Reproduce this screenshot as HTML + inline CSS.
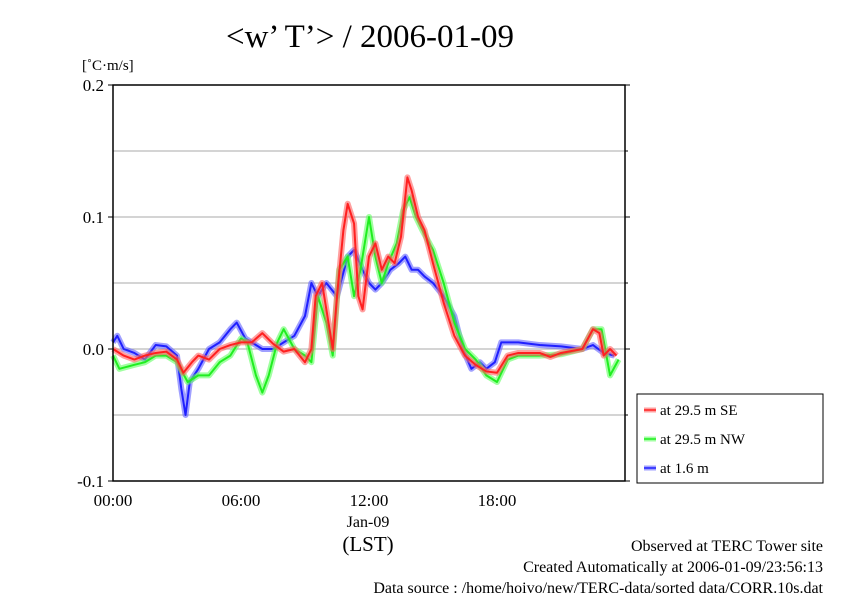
<!DOCTYPE html>
<html><head><meta charset="utf-8"><style>
body{margin:0;background:#fff;}
svg{display:block;font-family:"Liberation Serif",serif;}
</style></head><body>
<svg id="c" width="842" height="595" viewBox="0 0 842 595">
<text x="370" y="47" font-size="33" text-anchor="middle">&lt;w’ T’&gt; / 2006-01-09</text>
<text x="82" y="70" font-size="15">[˚C·m/s]</text>
<g id="grid"></g>
<g id="series"></g>
<rect x="113" y="85" width="512" height="396" fill="none" stroke="#000" stroke-width="1.5"/>
<g id="axes" font-size="17"></g>
<text x="368" y="527" font-size="16" text-anchor="middle">Jan-09</text>
<text x="368" y="551" font-size="21" text-anchor="middle">(LST)</text>
<g id="legend"></g>
<text x="823" y="551" font-size="16" text-anchor="end">Observed at TERC Tower site</text>
<text x="823" y="572" font-size="16" text-anchor="end">Created Automatically at 2006-01-09/23:56:13</text>
<text x="823" y="593" font-size="16" text-anchor="end">Data source : /home/hoivo/new/TERC-data/sorted  data/CORR.10s.dat</text>
</svg>
<script>
const yTicks=[-0.1,0.0,0.1,0.2];
const yTickLabels=["-0.1","0.0","0.1","0.2"];
const xTicks=[0,6,12,18];
const xTickLabels=["00:00","06:00","12:00","18:00"];
const seriesNames=["at 29.5 m SE","at 29.5 m NW","at 1.6 m"];
const seTime=[0,0.5,1,1.5,2,2.5,3,3.3,3.7,4,4.5,5,5.5,6,6.5,7,7.5,8,8.5,9,9.3,9.5,9.8,10,10.3,10.5,10.8,11,11.3,11.5,11.7,12,12.3,12.6,12.9,13.2,13.5,13.8,14,14.3,14.6,15,15.5,16,16.5,17,17.5,18,18.5,19,20,20.5,21,22,22.5,22.8,23,23.3,23.6];
const seVals=[0,-0.005,-0.008,-0.005,-0.003,-0.002,-0.008,-0.018,-0.01,-0.005,-0.008,0,0.003,0.005,0.005,0.012,0.004,-0.002,0,-0.01,0,0.04,0.05,0.03,0,0.04,0.09,0.11,0.095,0.04,0.03,0.07,0.08,0.06,0.07,0.065,0.085,0.13,0.12,0.1,0.09,0.065,0.035,0.01,-0.005,-0.012,-0.017,-0.018,-0.005,-0.003,-0.003,-0.006,-0.003,0,0.015,0.012,-0.005,0,-0.005];
const nwTime=[0,0.3,1,1.5,2,2.5,3,3.5,4,4.5,5,5.5,6,6.3,6.7,7,7.3,7.7,8,8.5,9,9.3,9.6,10,10.3,10.6,11,11.3,11.6,12,12.3,12.6,12.9,13.3,13.6,13.9,14.2,14.5,15,15.5,16,16.5,17,17.5,18,18.5,19,20,21,22,22.5,22.9,23.3,23.7];
const nwVals=[-0.005,-0.015,-0.012,-0.01,-0.005,-0.005,-0.01,-0.025,-0.02,-0.02,-0.01,-0.005,0.008,0.005,-0.02,-0.033,-0.02,0.005,0.015,0,-0.005,-0.01,0.04,0.02,-0.005,0.06,0.07,0.04,0.06,0.1,0.07,0.05,0.065,0.08,0.105,0.115,0.1,0.09,0.075,0.05,0.02,0,-0.008,-0.02,-0.025,-0.008,-0.005,-0.005,-0.004,0,0.015,0.015,-0.02,-0.008];
const lowTime=[0,0.2,0.5,1,1.5,2,2.5,3,3.2,3.4,3.6,4,4.5,5,5.5,5.8,6.2,6.5,7,7.5,8,8.5,9,9.3,9.6,10,10.5,11,11.3,11.7,12,12.3,12.6,13,13.4,13.7,14,14.3,14.6,15,15.5,16,16.4,16.8,17.2,17.5,17.9,18.2,18.5,19,20,21,22,22.5,23,23.5];
const lowVals=[0.005,0.01,0,-0.003,-0.008,0.003,0.002,-0.005,-0.03,-0.05,-0.025,-0.015,0,0.005,0.015,0.02,0.008,0.005,0,0,0.005,0.01,0.025,0.05,0.04,0.05,0.04,0.07,0.075,0.06,0.05,0.045,0.05,0.06,0.065,0.07,0.06,0.06,0.055,0.05,0.04,0.025,0,-0.015,-0.01,-0.015,-0.01,0.005,0.005,0.005,0.003,0.002,0,0.003,-0.003,-0.005];
const NS="http://www.w3.org/2000/svg";
const X=h=>113+h*512/24, Y=v=>349-v*1320;
function mk(t,a,p){const e=document.createElementNS(NS,t);for(const k in a)e.setAttribute(k,a[k]);p.appendChild(e);return e;}
const grid=document.getElementById('grid'),axes=document.getElementById('axes');
[-0.05,0,0.05,0.1,0.15].forEach(v=>{const l=mk('line',{x1:113,x2:625,y1:Y(v),y2:Y(v),stroke:'#aaa','stroke-width':1},grid);

});
yTicks.forEach((v,i)=>{const t=mk('text',{x:104,y:Y(v)+6,'text-anchor':'end'},axes);t.textContent=yTickLabels[i];


mk('line',{x1:113,x2:108,y1:Y(v),y2:Y(v),stroke:'#000'},axes);mk('line',{x1:625,x2:630,y1:Y(v),y2:Y(v),stroke:'#000'},axes);});
[-0.05,0.05,0.15].forEach(v=>{mk('line',{x1:625,x2:628,y1:Y(v),y2:Y(v),stroke:'#000'},axes);});
xTicks.forEach((h,i)=>{const t=mk('text',{x:X(h),y:506,'text-anchor':'middle'},axes);t.textContent=xTickLabels[i];

});
const ser=document.getElementById('series');
const defs=[[seTime,seVals,'#ff2020','#ff6060'],[nwTime,nwVals,'#20ee20','#60ff60'],[lowTime,lowVals,'#2020ff','#6060ff']];
const order=[2,1,0];
order.forEach(i=>{const [t,v,c,f]=defs[i];const pts=t.map((h,j)=>X(h)+','+Y(v[j])).join(' ');
const g=mk('g',{},ser);


mk('polyline',{points:pts,fill:'none',stroke:f,'stroke-width':6,'stroke-opacity':0.6,'stroke-linejoin':'round'},g);
mk('polyline',{points:pts,fill:'none',stroke:c,'stroke-width':2,'stroke-linejoin':'round'},g);});
const lg=document.getElementById('legend');
const box=mk('rect',{x:637,y:394,width:186,height:89,fill:'#fff',stroke:'#000'},lg);


seriesNames.forEach((n,i)=>{const y=410+i*29;const g=mk('g',{},lg);


mk('line',{x1:644,x2:656,y1:y,y2:y,stroke:defs[i][3],'stroke-width':5,'stroke-opacity':0.6},g);
mk('line',{x1:644,x2:656,y1:y,y2:y,stroke:defs[i][2],'stroke-width':1.5},g);
const t=mk('text',{x:660,y:y+5,'font-size':15},g);t.textContent=n;});
</script>
</body></html>
